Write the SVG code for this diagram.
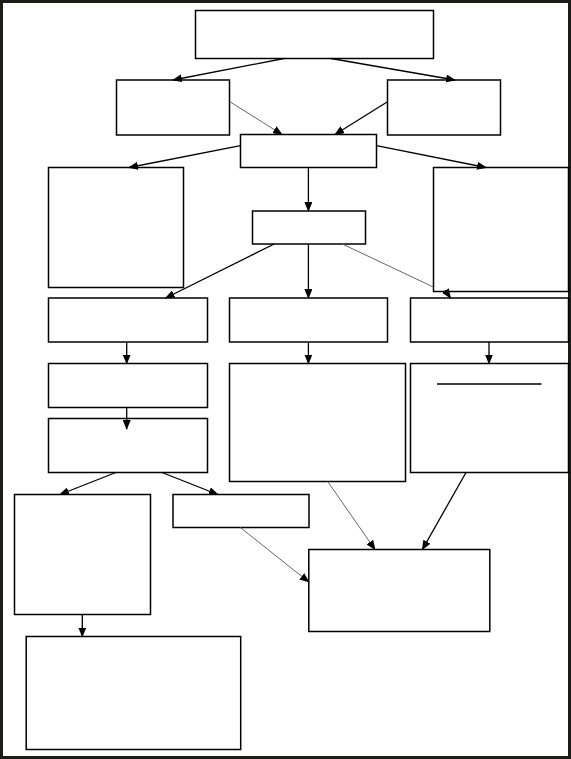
<svg xmlns="http://www.w3.org/2000/svg" width="571" height="759" viewBox="0 0 571 759">
<style>
.box{fill:#fff;stroke:#000;stroke-width:1.5}
.c{fill:none;stroke:#000;stroke-width:1.3}
.g{fill:none;stroke:#666;stroke-width:1}
</style>
<defs>
<marker id="ah" markerUnits="userSpaceOnUse" markerWidth="10" markerHeight="8" refX="9" refY="4" orient="auto">
<path d="M0,0 L10,4 L0,8 z" fill="#000"/>
</marker>
</defs>
<rect x="0" y="0" width="571" height="759" fill="#fff"/>
<rect x="1.5" y="1.5" width="568" height="756" fill="none" stroke="#1c1c18" stroke-width="3"/>
<g id="n1"><rect class="box" x="195.5" y="10.5" width="238" height="48"/></g>
<g id="n2l"><rect class="box" x="116.5" y="80" width="113" height="55"/></g>
<g id="n2r"><rect class="box" x="387.5" y="80" width="113" height="55"/></g>
<g id="n3"><rect class="box" x="240.5" y="134.5" width="136" height="33"/></g>
<g id="n4l"><rect class="box" x="48.5" y="167.5" width="135" height="120"/></g>
<g id="n4r"><rect class="box" x="433.5" y="167.5" width="135" height="124"/></g>
<g id="n5"><rect class="box" x="252.5" y="211" width="113" height="33"/></g>
<g id="n6l"><rect class="box" x="48.5" y="298" width="159" height="44"/></g>
<g id="n6m"><rect class="box" x="229.5" y="298" width="158" height="44"/></g>
<g id="n6r"><rect class="box" x="410.5" y="298" width="158" height="44"/></g>
<g id="n7l"><rect class="box" x="48.5" y="363.5" width="159" height="44"/></g>
<g id="n8l"><rect class="box" x="48.5" y="418.5" width="159" height="54"/></g>
<g id="n7m"><rect class="box" x="229.5" y="363.5" width="176" height="118"/></g>
<g id="n7r"><rect class="box" x="410.5" y="363.5" width="158" height="109"/><line x1="437" y1="384" x2="541.5" y2="384" stroke="#000" stroke-width="1.5"/></g>
<g id="n9l"><rect class="box" x="14.5" y="494.5" width="136" height="120"/></g>
<g id="n9m"><rect class="box" x="173" y="494.5" width="136" height="33"/></g>
<g id="n10"><rect class="box" x="308.8" y="549.5" width="181" height="82"/></g>
<g id="n11"><rect class="box" x="26.2" y="636.5" width="214.5" height="113"/></g>
<g id="connectors">
<line class="c" x1="284" y1="58.5" x2="173" y2="80" marker-end="url(#ah)"/>
<line class="c" x1="331" y1="58.5" x2="455" y2="80" marker-end="url(#ah)"/>
<line class="g" x1="229.8" y1="101.7" x2="282" y2="134.5" marker-end="url(#ah)"/>
<line class="c" x1="387.5" y1="101.7" x2="335" y2="134.5" marker-end="url(#ah)"/>
<line class="c" x1="240.5" y1="145.7" x2="129" y2="167.5" marker-end="url(#ah)"/>
<line class="c" x1="376.5" y1="145.7" x2="486" y2="167.5" marker-end="url(#ah)"/>
<line class="c" x1="308.4" y1="167.5" x2="308.4" y2="211" marker-end="url(#ah)"/>
<line class="c" x1="274.2" y1="244" x2="165.7" y2="298" marker-end="url(#ah)"/>
<line class="c" x1="308.4" y1="244" x2="308.4" y2="298" marker-end="url(#ah)"/>
<line class="g" x1="342.3" y1="244" x2="433.4" y2="287"/>
<line class="c" x1="445" y1="290" x2="450.5" y2="298" marker-end="url(#ah)"/>
<line class="c" x1="126.7" y1="342" x2="126.7" y2="363.5" marker-end="url(#ah)"/>
<line class="c" x1="308.4" y1="342" x2="308.4" y2="363.5" marker-end="url(#ah)"/>
<line class="c" x1="489" y1="342" x2="489" y2="363.5" marker-end="url(#ah)"/>
<line class="c" x1="126.7" y1="407.5" x2="126.7" y2="429" marker-end="url(#ah)"/>
<line class="c" x1="115.8" y1="472.5" x2="60" y2="494.5" marker-end="url(#ah)"/>
<line class="c" x1="162" y1="472.5" x2="217.8" y2="494.5" marker-end="url(#ah)"/>
<line class="g" x1="327.7" y1="481.5" x2="375" y2="549.5" marker-end="url(#ah)"/>
<line class="c" x1="466" y1="472.5" x2="422.4" y2="549.5" marker-end="url(#ah)"/>
<line class="g" x1="240.3" y1="527.5" x2="308.8" y2="582" marker-end="url(#ah)"/>
<line class="c" x1="82.3" y1="614.5" x2="82.3" y2="636.5" marker-end="url(#ah)"/>
</g>
</svg>
